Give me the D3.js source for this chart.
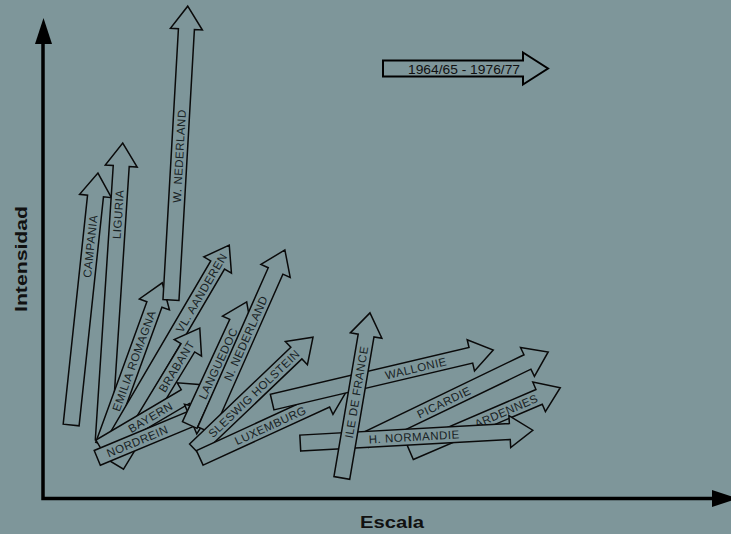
<!DOCTYPE html>
<html>
<head>
<meta charset="utf-8">
<script src="https://cdn.jsdelivr.net/npm/d3@7/dist/d3.min.js"></script>
<style>
  html, body { margin: 0; padding: 0; background: #7e969a; }
  svg { display: block; }
</style>
</head>
<body>
<svg id="chart" width="731" height="534"></svg>
<script>
// ---- data (Escala / Intensidad, 1964/65 -> 1976/77) ----
const regions = ["CAMPANIA", "LIGURIA", "EMILIA ROMAGNA", "W. NEDERLAND", "VL. AANDEREN", "BRABANT",
  "BAYERN", "NORDREIN", "LANGUEDOC", "N. NEDERLAND", "SLESWIG HOLSTEIN", "LUXEMBURG",
  "WALLONIE", "PICARDIE", "ARDENNES", "H. NORMANDIE", "ILE DE FRANCE"];
const escala6465 = [4.2, 9.0, 9.0, 19.1, 9.7, 11.0, 8.5, 8.1, 21.9, 24.2, 22.7, 23.4, 34.2, 48.1, 54.8, 38.4, 44.6];
const intens6465 = [15.1, 11.9, 10.9, 41.3, 9.4, 6.7, 10.5, 8.2, 15.1, 14.0, 9.9, 8.2, 19.9, 11.9, 9.4, 11.3, 4.0];
const escala7677 = [8.2, 11.9, 17.8, 21.6, 27.8, 23.4, 24.2, 25.2, 30.4, 36.1, 40.3, 45.4, 67.2, 75.4, 77.2, 73.1, 48.8];
const intens7677 = [67.9, 74.2, 44.9, 102.9, 52.8, 35.4, 23.5, 18.2, 40.9, 51.8, 33.5, 22.4, 30.8, 30.4, 22.9, 14.0, 38.6];
const labelAt   = [0.71, 0.76, 0.52, 0.49, 0.77, 0.72, 0.48, 0.35, 0.50, 0.51, 0.50, 0.48, 0.65, 0.43, 0.64, 0.49, 0.52];
const legendText = "1964/65 - 1976/77";
const xTitle = "Escala";
const yTitle = "Intensidad";

// ---- layout ----
const W = 731, H = 534;
const BG = "#7e969a";
const x = d3.scaleLinear().domain([0, 100]).range([43, 713]);
const y = d3.scaleLinear().domain([0, 100]).range([497, 20]);

const svg = d3.select("#chart");
svg.append("rect").attr("width", W).attr("height", H).attr("fill", BG);

function arrowPath(x0, y0, x1, y1, sw, hw, hl) {
  const dx = x1 - x0, dy = y1 - y0;
  const len = Math.hypot(dx, dy);
  const ux = dx / len, uy = dy / len;
  const nx = -uy, ny = ux;
  const bx = x1 - ux * hl, by = y1 - uy * hl;
  const pts = [
    [x0 + nx * sw, y0 + ny * sw],
    [bx + nx * sw, by + ny * sw],
    [bx + nx * hw, by + ny * hw],
    [x1, y1],
    [bx - nx * hw, by - ny * hw],
    [bx - nx * sw, by - ny * sw],
    [x0 - nx * sw, y0 - ny * sw]
  ];
  return d3.line()(pts) + "Z";
}

// ---- axes ----
const ax = svg.append("g");
const x0 = x(0), y0 = y(0);
ax.append("path")
  .attr("d", d3.line()([[x0, y(96)], [x0, y0 + 1.5], [x(100), y0 + 1.5]]))
  .attr("fill", "none").attr("stroke", "#000").attr("stroke-width", 3.5);
ax.append("path")
  .attr("d", d3.line()([[x0 - 8, 44], [x0 + 0.5, 18], [x0 + 9, 44]]) + "Z")
  .attr("fill", "#000");
ax.append("path")
  .attr("d", d3.line()([[712, y0 - 7], [738, y0 + 1.5], [712, y0 + 10]]) + "Z")
  .attr("fill", "#000");

svg.append("text")
  .attr("x", 392).attr("y", 528)
  .attr("text-anchor", "middle")
  .attr("font-family", "Liberation Sans, Arial, sans-serif")
  .attr("font-weight", "bold").attr("font-size", 17)
  .attr("textLength", 64).attr("lengthAdjust", "spacingAndGlyphs")
  .attr("fill", "#111")
  .text(xTitle);
svg.append("text")
  .attr("transform", "translate(27,259) rotate(-90)")
  .attr("text-anchor", "middle")
  .attr("font-family", "Liberation Sans, Arial, sans-serif")
  .attr("font-weight", "bold").attr("font-size", 17)
  .attr("textLength", 106).attr("lengthAdjust", "spacingAndGlyphs")
  .attr("fill", "#111")
  .text(yTitle);

// ---- arrows ----
const data = regions.map((r, i) => ({
  name: r,
  x0: x(escala6465[i]), y0: y(intens6465[i]),
  x1: x(escala7677[i]), y1: y(intens7677[i]),
  t: labelAt[i]
}));

const g = svg.append("g");
const arrows = g.selectAll("g.arrow").data(data).join("g").attr("class", "arrow");
arrows.append("path")
  .attr("d", d => arrowPath(d.x0, d.y0, d.x1, d.y1, 8, 16, 23))
  .attr("fill", BG)
  .attr("stroke", "#0a0a0a")
  .attr("stroke-width", 1.5)
  .attr("stroke-linejoin", "miter");
arrows.append("text")
  .attr("transform", d => {
    const lx = d.x0 + (d.x1 - d.x0) * d.t;
    const ly = d.y0 + (d.y1 - d.y0) * d.t;
    const ang = Math.atan2(d.y1 - d.y0, d.x1 - d.x0) * 180 / Math.PI;
    return `translate(${lx},${ly}) rotate(${ang})`;
  })
  .attr("text-anchor", "middle")
  .attr("dy", "0.36em")
  .attr("font-family", "Liberation Sans, Arial, sans-serif")
  .attr("font-size", 11.5)
  .attr("letter-spacing", 0.5)
  .attr("fill", "#182224")
  .text(d => d.name);

// ---- legend ----
const lg = svg.append("g");
lg.append("path")
  .attr("d", arrowPath(383, 68.5, 548, 68.5, 8, 16, 25))
  .attr("fill", BG)
  .attr("stroke", "#000")
  .attr("stroke-width", 2);
lg.append("text")
  .attr("x", 464).attr("y", 73.5)
  .attr("text-anchor", "middle")
  .attr("font-family", "Liberation Sans, Arial, sans-serif")
  .attr("font-size", 13.5)
  .attr("textLength", 112).attr("lengthAdjust", "spacingAndGlyphs")
  .attr("fill", "#111")
  .text(legendText);
</script>
</body>
</html>
